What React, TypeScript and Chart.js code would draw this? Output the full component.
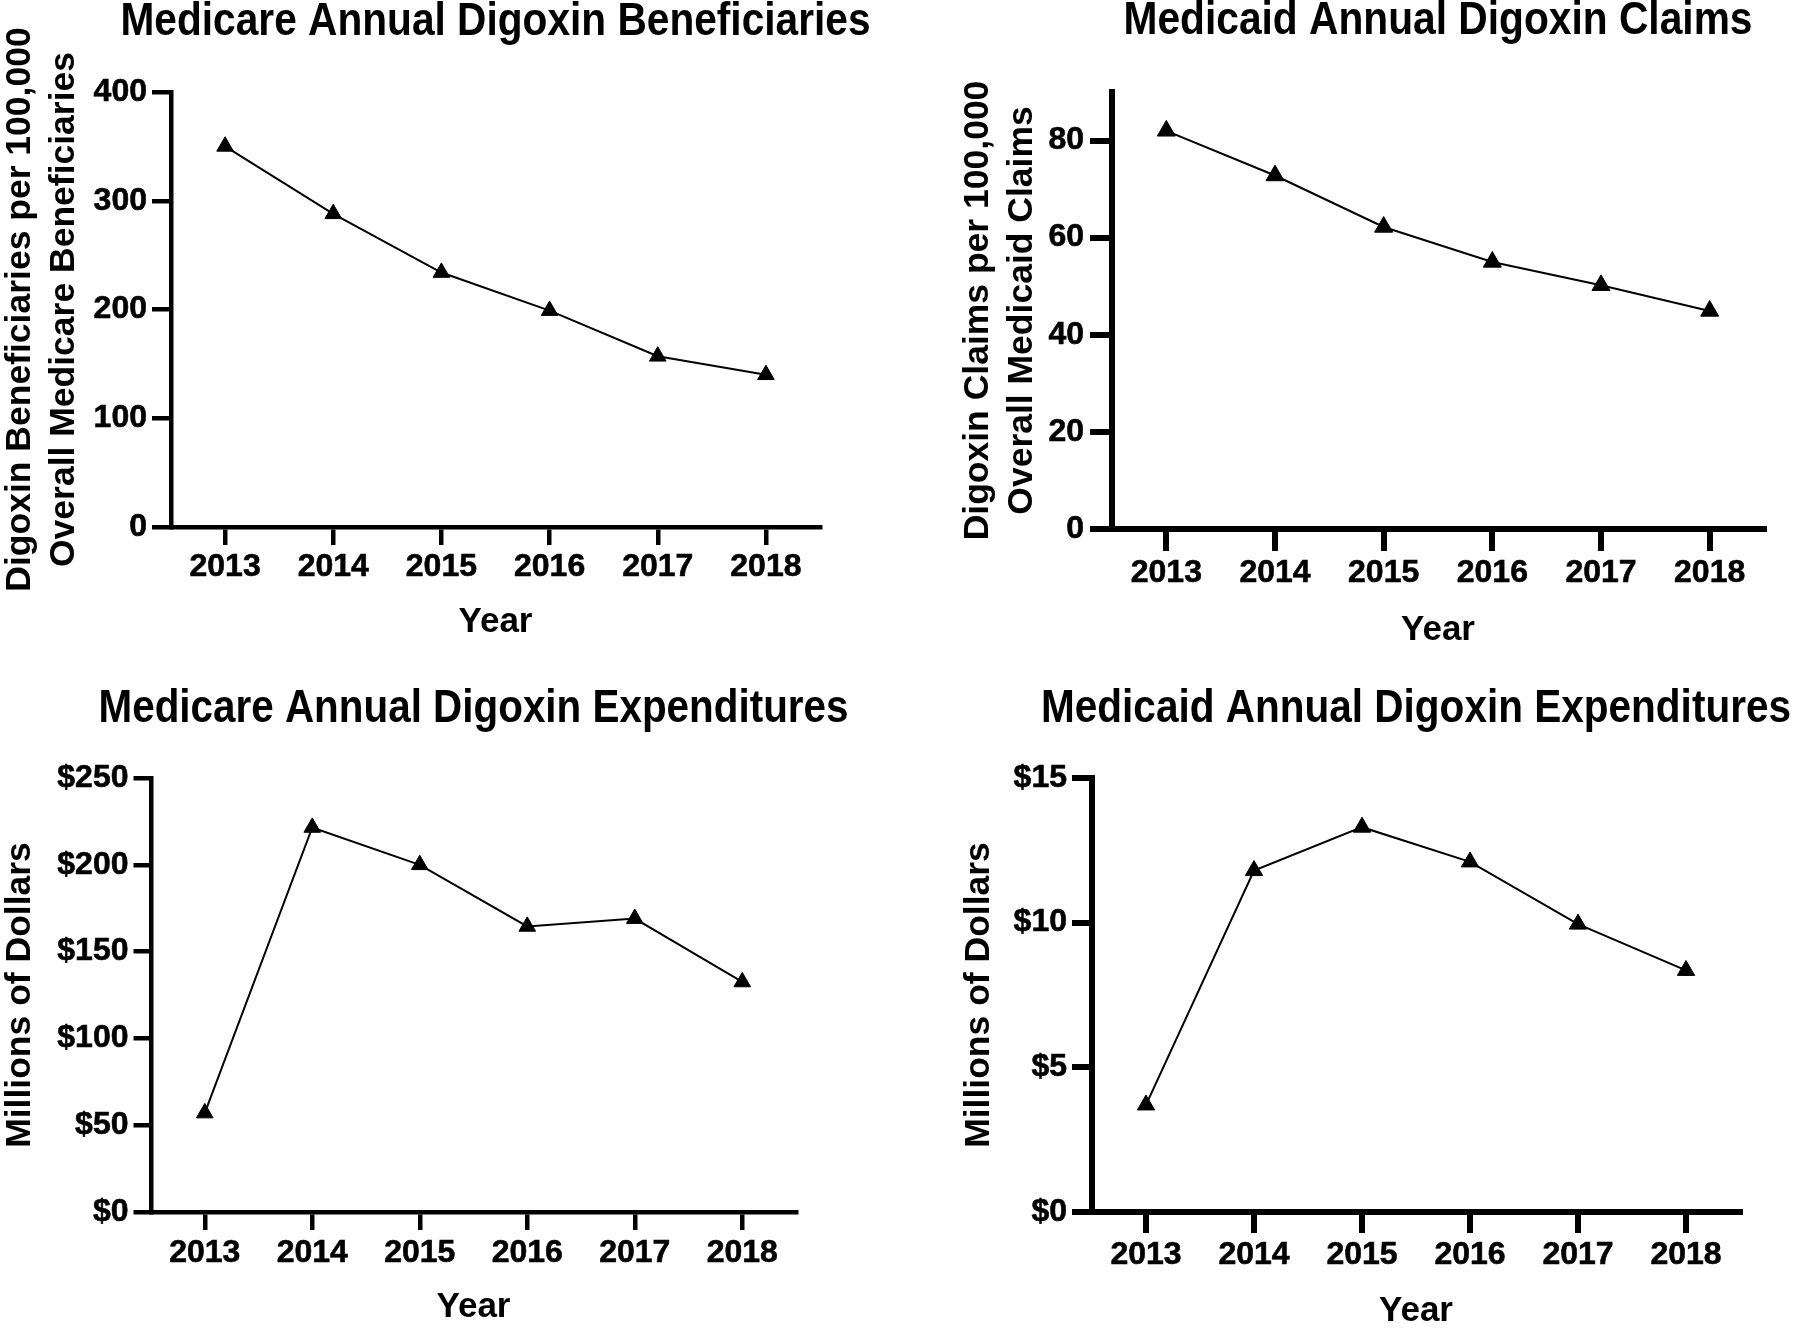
import React, { useEffect, useRef } from "react";
import { Chart, registerables } from "chart.js";

Chart.register(...registerables);

// ---- data ----
const years = ["2013", "2014", "2015", "2016", "2017", "2018"];
const medicareBeneficiaries = [350, 288, 234, 199, 157, 140];
const medicaidClaims = [82, 72.8, 62.2, 55, 50.2, 44.9];
const medicareExpenditures = [57, 221.5, 200, 164.5, 169, 132.5];
const medicaidExpenditures = [3.7, 11.8, 13.3, 12.1, 9.95, 8.35];

const beneficiaryTicks = [0, 100, 200, 300, 400];
const claimTicks = [0, 20, 40, 60, 80];
const medicareDollarTicks = [0, 50, 100, 150, 200, 250];
const medicaidDollarTicks = [0, 5, 10, 15];

const FONT = "'Liberation Sans', Arial, Helvetica, sans-serif";
const TITLE_SIZE = 46.5;
const TITLE_LH = 1.0;
const YT_SIZE = 35.5;
const YT_LH = 1.25;
const TICK_SIZE = 32;
const XT_SIZE = 35;
const XT_LH = 1.2;

interface PanelSpec {
  left: number; // canvas left on page
  top: number; // canvas top on page
  height: number;
  area: { left: number; top: number; right: number; bottom: number }; // plot area, page x / canvas y
  title: string;
  titleWidth: number;
  titleMid: number;
  yTitle: string | string[];
  yTitleMid: number; // page x
  yearMid: number;
  data: number[];
  yMax: number;
  yTicks: number[];
  prefix: string;
  yTickLen: number;
  yTickPad: number;
  xTickLen: number;
  xTickPad: number;
  axisWidth: number;
  pointRadius: number;
}

const panels: PanelSpec[] = [
  {
    left: 0, top: 0, height: 665,
    area: { left: 171, top: 92, right: 820, bottom: 527 },
    title: "Medicare Annual Digoxin Beneficiaries", titleWidth: 750, titleMid: 22,
    yTitle: ["Digoxin Beneficiaries per 100,000", "Overall Medicare Beneficiaries"], yTitleMid: 20,
    yearMid: 622, data: medicareBeneficiaries, yMax: 400, yTicks: beneficiaryTicks, prefix: "",
    yTickLen: 19, yTickPad: 5, xTickLen: 18, xTickPad: 3, axisWidth: 4.5, pointRadius: 9.6,
  },
  {
    left: 900, top: 0, height: 665,
    area: { left: 1112, top: 92, right: 1764, bottom: 529 },
    title: "Medicaid Annual Digoxin Claims", titleWidth: 629, titleMid: 21,
    yTitle: ["Digoxin Claims per 100,000", "Overall Medicaid Claims"], yTitleMid: 978,
    yearMid: 630, data: medicaidClaims, yMax: 90, yTicks: claimTicks, prefix: "",
    yTickLen: 22, yTickPad: 6, xTickLen: 22, xTickPad: 2.5, axisWidth: 6, pointRadius: 10.4,
  },
  {
    left: 0, top: 665, height: 665,
    area: { left: 151, top: 113, right: 796, bottom: 547 },
    title: "Medicare Annual Digoxin Expenditures", titleWidth: 750, titleMid: 44.5,
    yTitle: "Millions of Dollars", yTitleMid: 20,
    yearMid: 642, data: medicareExpenditures, yMax: 250, yTicks: medicareDollarTicks, prefix: "$",
    yTickLen: 17.5, yTickPad: 5, xTickLen: 18, xTickPad: 3.7, axisWidth: 4.5, pointRadius: 9.6,
  },
  {
    left: 900, top: 665, height: 665,
    area: { left: 1092, top: 113, right: 1740, bottom: 547 },
    title: "Medicaid Annual Digoxin Expenditures", titleWidth: 750, titleMid: 44.5,
    yTitle: "Millions of Dollars", yTitleMid: 979,
    yearMid: 646, data: medicaidExpenditures, yMax: 15, yTicks: medicaidDollarTicks, prefix: "$",
    yTickLen: 20, yTickPad: 5, xTickLen: 21, xTickPad: 2.7, axisWidth: 6, pointRadius: 10,
  },
];

function Panel({ spec }: { spec: PanelSpec }) {
  const ref = useRef<HTMLCanvasElement>(null);
  // canvas is symmetric around the plot centre so the title is centred over the plot
  const centre = (spec.area.left + spec.area.right) / 2;
  const width = Math.round(2 * (centre - spec.left));

  useEffect(() => {
    const canvas = ref.current;
    if (!canvas) return;
    const s = spec;
    const titleLinePx = TITLE_SIZE * TITLE_LH;
    const titlePadTop = s.titleMid - titleLinePx / 2;
    const titlePadBottom = s.area.top - titlePadTop - titleLinePx;
    const ytPadTop = s.yTitleMid - s.left - (YT_SIZE * YT_LH) / 2;
    const xtPadBottom = s.height - s.yearMid - (XT_SIZE * XT_LH) / 2;
    const yAxisWidth = s.area.left - s.left;
    const rightWidth = width - (s.area.right - s.left);
    const xAxisHeight = s.height - s.area.bottom;

    const titleWidthPlugin = {
      id: "titleWidth",
      afterLayout(chart: any) {
        const t = chart.titleBlock;
        if (t) {
          const c = (t.left + t.right) / 2;
          t.left = c - s.titleWidth / 2;
          t.right = c + s.titleWidth / 2;
        }
      },
    };

    const chart = new Chart(canvas, {
      type: "line",
      data: {
        labels: years,
        datasets: [
          {
            data: s.data,
            yAxisID: "y",
            borderColor: "#000",
            borderWidth: 2,
            backgroundColor: "#000",
            pointStyle: "triangle",
            pointRadius: s.pointRadius,
            pointBackgroundColor: "#000",
            pointBorderColor: "#000",
            pointBorderWidth: 1,
            tension: 0,
            fill: false,
            clip: false,
          },
        ],
      },
      plugins: [titleWidthPlugin],
      options: {
        animation: false,
        responsive: false,
        devicePixelRatio: 1,
        color: "#000",
        layout: {
          autoPadding: false,
          padding: 0,
        },
        plugins: {
          legend: { display: false },
          tooltip: { enabled: false },
          title: {
            display: true,
            text: s.title,
            fullSize: true,
            color: "#000",
            font: { family: FONT, size: TITLE_SIZE, weight: "bold", lineHeight: TITLE_LH },
            padding: { top: titlePadTop, bottom: titlePadBottom },
          },
        },
        scales: {
          x: {
            type: "category",
            offset: true,
            grid: {
              display: true,
              offset: false,
              drawOnChartArea: false,
              drawTicks: true,
              tickLength: s.xTickLen,
              tickWidth: s.axisWidth,
              tickColor: "#000",
              color: "#000",
              lineWidth: s.axisWidth,
            },
            border: { display: true, color: "#000", width: s.axisWidth },
            ticks: {
              color: "#000",
              padding: s.xTickPad,
              maxRotation: 0,
              autoSkip: false,
              textStrokeColor: "#000",
              textStrokeWidth: 0.6,
              font: { family: FONT, size: TICK_SIZE, weight: "bold" },
            },
            title: {
              display: true,
              text: "Year",
              color: "#000",
              font: { family: FONT, size: XT_SIZE, weight: "bold", lineHeight: XT_LH },
              padding: { top: 0, bottom: xtPadBottom },
            },
            afterFit: (scale: any) => {
              scale.height = xAxisHeight;
            },
          },
          y: {
            type: "linear",
            position: "left",
            bounds: "data",
            min: 0,
            max: s.yMax,
            grid: {
              display: true,
              drawOnChartArea: false,
              drawTicks: true,
              tickLength: s.yTickLen,
              tickWidth: s.axisWidth,
              tickColor: "#000",
              color: "#000",
              lineWidth: s.axisWidth,
            },
            border: { display: true, color: "#000", width: s.axisWidth },
            ticks: {
              color: "#000",
              padding: s.yTickPad,
              textStrokeColor: "#000",
              textStrokeWidth: 0.6,
              font: { family: FONT, size: TICK_SIZE, weight: "bold" },
              callback: (v: any) => s.prefix + v,
            },
            afterBuildTicks: (scale: any) => {
              scale.ticks = s.yTicks.map((v) => ({ value: v }));
            },
            title: {
              display: true,
              text: s.yTitle,
              color: "#000",
              font: { family: FONT, size: YT_SIZE, weight: "bold", lineHeight: YT_LH },
              padding: { top: ytPadTop, bottom: 0 },
            },
            afterFit: (scale: any) => {
              scale.width = yAxisWidth;
            },
          },
          spacer: {
            type: "linear",
            position: "right",
            display: true,
            min: 0,
            max: 1,
            grid: { display: false, drawTicks: false, drawOnChartArea: false },
            border: { display: false },
            ticks: { display: false },
            title: { display: false },
            afterFit: (scale: any) => {
              scale.width = rightWidth;
            },
          },
        },
      } as any,
    });
    return () => chart.destroy();
  }, [spec, width]);

  return (
    <canvas
      ref={ref}
      width={width}
      height={spec.height}
      style={{
        position: "absolute",
        left: spec.left,
        top: spec.top,
        width: width,
        height: spec.height,
        display: "block",
      }}
    />
  );
}

export default function App() {
  return (
    <div
      style={{
        position: "absolute",
        left: 0,
        top: 0,
        width: 1800,
        height: 1330,
        background: "#fff",
        overflow: "hidden",
      }}
    >
      {panels.map((p, i) => (
        <Panel key={i} spec={p} />
      ))}
    </div>
  );
}
